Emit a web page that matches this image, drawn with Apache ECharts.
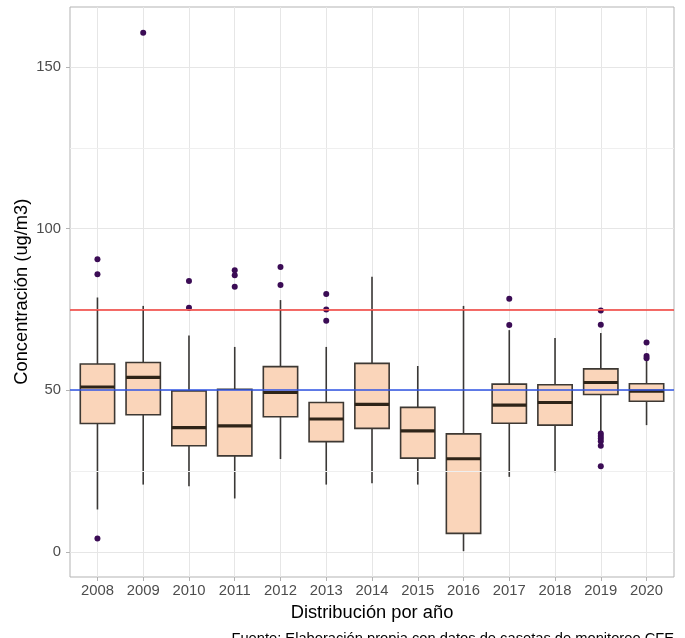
<!DOCTYPE html>
<html><head><meta charset="utf-8">
<script src="https://cdn.jsdelivr.net/npm/echarts@6/dist/echarts.min.js"></script>
<style>html,body{margin:0;padding:0;background:#fff}#c{width:685px;height:638px}</style>
</head><body><div id="c"></div>
<script>
const years = ['2008','2009','2010','2011','2012','2013','2014','2015','2016','2017','2018','2019','2020'];
const whiskerLow  = [13.1, 20.8, 20.3, 16.5, 28.7, 20.8, 21.2, 20.8, 0.2, 23.2, 24.6, 37.4, 39.2];
const q1          = [39.7, 42.4, 32.8, 29.7, 41.8, 34.1, 38.2, 29.0, 5.7, 39.8, 39.2, 48.7, 46.6];
const median      = [51.0, 54.0, 38.4, 39.0, 49.3, 41.1, 45.6, 37.4, 28.8, 45.4, 46.2, 52.4, 49.7];
const q3          = [58.1, 58.6, 49.8, 50.3, 57.3, 46.2, 58.3, 44.7, 36.5, 51.9, 51.7, 56.6, 52.0];
const whiskerHigh = [78.7, 76.1, 66.9, 63.4, 77.9, 63.4, 85.1, 57.5, 76.1, 68.6, 66.2, 67.7, 59.3];
const outlierYears  = ['2008','2008','2008','2009','2010','2010','2011','2011','2011','2012','2012','2013','2013','2013','2017','2017','2019','2019','2019','2019','2019','2019','2019','2019','2020','2020','2020'];
const outlierValues = [90.5, 85.9, 4.1, 160.6, 83.8, 75.5, 87.1, 85.6, 82.0, 88.1, 82.6, 79.8, 75.0, 71.5, 78.3, 70.2, 74.7, 70.3, 36.6, 35.8, 35.1, 34.2, 32.8, 26.5, 64.8, 60.6, 59.9];
const yTicks = [0, 50, 100, 150];
const yMinor = [25, 75, 125];
const limitValues = [75, 50];
const limitColors = ['#f03a34', '#2f55e4'];

const FONT = '"Liberation Sans", Arial, Helvetica, sans-serif';
const chart = echarts.init(document.getElementById('c'));
const idx = years.map((y, i) => i);
const boxData = idx.map(i => [i, whiskerLow[i], q1[i], median[i], q3[i], whiskerHigh[i]]);
const outData = outlierYears.map((y, k) => [years.indexOf(y), outlierValues[k]]);

function renderBox(params, api) {
  const i = api.value(0);
  const lo = api.coord([i, api.value(1)]);
  const b1 = api.coord([i, api.value(2)]);
  const md = api.coord([i, api.value(3)]);
  const b3 = api.coord([i, api.value(4)]);
  const hi = api.coord([i, api.value(5)]);
  const half = api.size([0.75, 0])[0] / 2;
  const x = lo[0];
  const ws = {stroke: '#3a3836', lineWidth: 1.6};
  return {type: 'group', children: [
    {type: 'line', shape: {x1: x, y1: hi[1], x2: x, y2: b3[1]}, style: ws},
    {type: 'line', shape: {x1: x, y1: b1[1], x2: x, y2: lo[1]}, style: ws},
    {type: 'rect', shape: {x: x - half, y: b3[1], width: 2 * half, height: b1[1] - b3[1]},
     style: {fill: '#fad5ba', stroke: '#3d3833', lineWidth: 1.6}},
    {type: 'line', shape: {x1: x - half, y1: md[1], x2: x + half, y2: md[1]},
     style: {stroke: '#2e2418', lineWidth: 3.2}}
  ]};
}

chart.setOption({
  animation: false,
  grid: {left: 70, top: 7, right: 11, bottom: 61, show: true, borderColor: '#b3b3b3', borderWidth: 1, backgroundColor: 'transparent'},
  xAxis: {
    type: 'value', min: -0.6, max: 12.6, minInterval: 1, maxInterval: 1,
    axisLine: {show: false, onZero: false},
    axisTick: {show: true, length: 4, lineStyle: {color: '#b3b3b3'}, customValues: idx},
    axisLabel: {customValues: idx, margin: 6, color: '#4d4d4d', fontSize: 14.8, fontFamily: FONT,
      formatter: v => years[Math.round(v)]},
    splitLine: {show: true, lineStyle: {color: '#e6e6e6', width: 1}}
  },
  yAxis: {
    type: 'value', min: -7.8, max: 168.6, minInterval: 50, maxInterval: 50,
    axisLine: {show: false, onZero: false},
    axisTick: {show: true, length: 4, lineStyle: {color: '#b3b3b3'}, customValues: yTicks},
    axisLabel: {customValues: yTicks, margin: 9, color: '#4d4d4d', fontSize: 14.8, fontFamily: FONT},
    splitLine: {show: true, lineStyle: {color: '#e6e6e6', width: 1}}
  },
  series: [
    {type: 'line', data: [], z: 1, silent: true,
     markLine: {silent: true, symbol: 'none', label: {show: false}, animation: false,
       lineStyle: {color: '#efefef', width: 1, type: 'solid'},
       data: yMinor.map(v => ({yAxis: v}))}},
    {type: 'custom', renderItem: renderBox, data: boxData, z: 2, encode: {x: 0, y: [1, 2, 3, 4, 5]}},
    {type: 'line', data: [], z: 3, silent: true,
     markLine: {silent: true, symbol: 'none', label: {show: false}, animation: false,
       data: limitValues.map((v, k) => ({yAxis: v, lineStyle: {color: limitColors[k], width: 1.6, type: 'solid'}}))}},
    {type: 'scatter', data: outData, z: 4, symbolSize: 6, itemStyle: {color: '#3b0c55', opacity: 1}}
  ],
  graphic: [
    {type: 'text', x: 372, y: 612.6, style: {text: 'Distribución por año', fontSize: 18.3, fontFamily: FONT, fill: '#000', align: 'center', verticalAlign: 'middle'}},
    {type: 'text', x: 21.9, y: 291.7, rotation: Math.PI / 2, style: {text: 'Concentración (ug/m3)', fontSize: 18.3, fontFamily: FONT, fill: '#000', align: 'center', verticalAlign: 'middle'}},
    {type: 'text', x: 674, y: 639, style: {text: 'Fuente: Elaboración propia con datos de casetas de monitoreo CFE', fontSize: 14.7, fontFamily: FONT, fill: '#000', align: 'right', verticalAlign: 'middle'}}
  ]
});
</script></body></html>
